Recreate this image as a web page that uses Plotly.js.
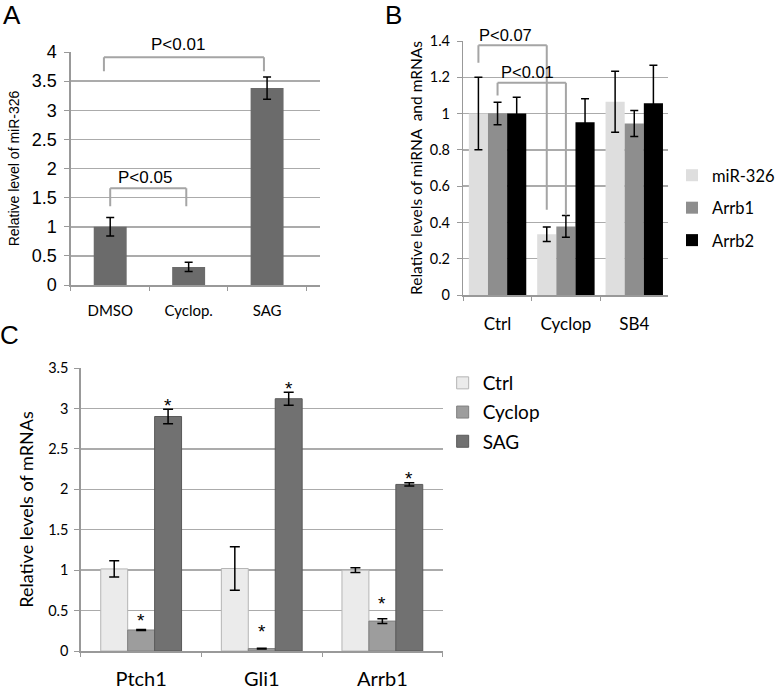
<!DOCTYPE html>
<html>
<head>
<meta charset="utf-8">
<script src="https://cdn.plot.ly/plotly-3.0.1.min.js"></script>
<style>html,body{margin:0;padding:0;background:#fff;}#chart{width:780px;height:690px;}</style>
</head>
<body>
<div id="chart"></div>
<script>
// ---------- Panel A ----------
const aCats = ['DMSO', 'Cyclop.', 'SAG'];
const aVals = [1.0, 0.31, 3.38];
const aErr  = [0.16, 0.08, 0.19];

// ---------- Panel B ----------
const bCats = ['Ctrl', 'Cyclop', 'SB4'];
const bSeriesNames = ['miR-326', 'Arrb1', 'Arrb2'];
const bMir     = [1.0, 0.335, 1.065];
const bMirErr  = [0.2, 0.04, 0.168];
const bArrb1    = [1.0, 0.378, 0.945];
const bArrb1Err = [0.062, 0.06, 0.072];
const bArrb2    = [1.0, 0.952, 1.057];
const bArrb2Err = [0.09, 0.13, 0.21];

// ---------- Panel C ----------
const cCats = ['Ptch1', 'Gli1', 'Arrb1'];
const cSeriesNames = ['Ctrl', 'Cyclop', 'SAG'];
const cCtrl      = [1.015, 1.02, 1.0];
const cCtrlErr   = [0.1, 0.27, 0.03];
const cCyclop    = [0.26, 0.03, 0.37];
const cCyclopErr = [0.005, 0.005, 0.03];
const cSag       = [2.9, 3.12, 2.06];
const cSagErr    = [0.09, 0.08, 0.02];

const W = 780, H = 690;
const px = v => v / W;
const py = v => 1 - v / H;

const CAL = 'Lato, "Open Sans", sans-serif';
const ARI = '"Liberation Sans", Arial, sans-serif';
const GRID = '#ababab';
const errStyle = (arr, w) => ({type: 'data', array: arr, visible: true, color: '#000', thickness: 1.5, width: w});

const traces = [];
// A
traces.push({type: 'bar', x: aCats, y: aVals, xaxis: 'x', yaxis: 'y', width: 0.42,
  marker: {color: '#6b6b6b'}, error_y: errStyle(aErr, 4), showlegend: false});
// B
const bVals = [bMir, bArrb1, bArrb2];
const bErrs = [bMirErr, bArrb1Err, bArrb2Err];
const bColors = ['#dedede', '#8e8e8e', '#000000'];
const bOffsets = [-0.42, -0.14, 0.14];
bSeriesNames.forEach((n, i) => {
  traces.push({type: 'bar', name: n, x: bCats, y: bVals[i], xaxis: 'x2', yaxis: 'y2',
    width: 0.28, offset: bOffsets[i], marker: {color: bColors[i]},
    error_y: errStyle(bErrs[i], 4), legend: 'legend', legendgroup: 'b' + i});
});
// C
const cVals = [cCtrl, cCyclop, cSag];
const cErrs = [cCtrlErr, cCyclopErr, cSagErr];
const cColors = ['#ebebeb', '#9d9d9d', '#717171'];
const cLines = ['#b5b5b5', '#808080', '#5a5a5a'];
cSeriesNames.forEach((n, i) => {
  traces.push({type: 'bar', name: n, x: cCats, y: cVals[i], xaxis: 'x3', yaxis: 'y3',
    marker: {color: cColors[i], line: {color: cLines[i], width: 1}},
    error_y: errStyle(cErrs[i], 5), legend: 'legend2', legendgroup: 'c' + i});
});

function yax(domain, range, dtick, font, standoff) {
  return {domain: domain, range: range, dtick: dtick, showgrid: true, gridcolor: GRID, gridwidth: 1.5,
    showline: true, linecolor: '#999', linewidth: 1.5, zeroline: false, ticks: 'outside', ticklen: 5,
    tickcolor: '#999', tickfont: font, ticklabelstandoff: standoff, fixedrange: true};
}
function xax(domain, range, font, standoff, anchor) {
  return {domain: domain, range: range, type: 'category', anchor: anchor, showgrid: false,
    showline: true, linecolor: '#999', linewidth: 1.5, zeroline: false, ticks: 'outside', ticklen: 4,
    tickcolor: '#999', tickson: 'boundaries', tickfont: font, ticklabelstandoff: standoff, fixedrange: true};
}

const bracketColor = '#a5a5a5';
function bracket(xr, yr, xL, xR, yTop, yLegL, yLegR) {
  const s = {type: 'line', xref: xr, yref: yr, line: {color: bracketColor, width: 2}, layer: 'above'};
  return [
    Object.assign({}, s, {x0: xL, x1: xL, y0: yLegL, y1: yTop}),
    Object.assign({}, s, {x0: xL, x1: xR, y0: yTop, y1: yTop}),
    Object.assign({}, s, {x0: xR, x1: xR, y0: yTop, y1: yLegR})
  ];
}

const shapes = [].concat(
  bracket('x', 'y', -0.08, 1.96, 3.91, 3.67, 3.67),
  bracket('x', 'y', 0.0, 0.97, 1.66, 1.35, 1.35),
  bracket('x2', 'y2', -0.28, 0.72, 1.376, 1.28, 0.47),
  bracket('x2', 'y2', 0.0, 1.0, 1.17, 1.10, 0.44)
);

const letterFont = {family: ARI, size: 26, color: '#000'};
const annotations = [
  {text: 'A', xref: 'paper', yref: 'paper', x: px(12), y: py(15), xanchor: 'center', yanchor: 'middle', showarrow: false, font: letterFont},
  {text: 'B', xref: 'paper', yref: 'paper', x: px(399), y: py(15), xanchor: 'center', yanchor: 'middle', showarrow: false, font: letterFont},
  {text: 'C', xref: 'paper', yref: 'paper', x: px(10), y: py(335), xanchor: 'center', yanchor: 'middle', showarrow: false, font: letterFont},
  {text: 'P<0.01', xref: 'x', yref: 'paper', x: 0.86, y: py(45), xanchor: 'center', yanchor: 'middle', showarrow: false, font: {family: ARI, size: 17, color: '#000'}},
  {text: 'P<0.05', xref: 'x', yref: 'y', x: 0.44, y: 1.84, xanchor: 'center', yanchor: 'middle', showarrow: false, font: {family: ARI, size: 17, color: '#000'}},
  {text: 'P<0.07', xref: 'x2', yref: 'paper', x: 0.11, y: py(35), xanchor: 'center', yanchor: 'middle', showarrow: false, font: {family: ARI, size: 16.5, color: '#000'}},
  {text: 'P<0.01', xref: 'x2', yref: 'y2', x: 0.44, y: 1.23, xanchor: 'center', yanchor: 'middle', showarrow: false, font: {family: ARI, size: 16.5, color: '#000'}}
];
// significance stars in panel C (above Cyclop and SAG bars)
const starCyc = [0.44, 0.30, 0.65];
const starSag = [3.10, 3.31, 2.20];
cCats.forEach((c, i) => {
  annotations.push({text: '*', xref: 'x3', yref: 'y3', x: i, y: starCyc[i], yshift: -5, showarrow: false,
    font: {family: ARI, size: 19, color: '#000'}});
  annotations.push({text: '*', xref: 'x3', yref: 'y3', x: i + 0.2233, y: starSag[i], yshift: -5, showarrow: false,
    font: {family: ARI, size: 19, color: '#000'}});
});

const layout = {
  width: W, height: H, margin: {l: 0, r: 0, t: 0, b: 0},
  paper_bgcolor: '#fff', plot_bgcolor: 'rgba(0,0,0,0)',
  barmode: 'group', bargap: 0.33, bargroupgap: 0,
  showlegend: true,
  font: {family: CAL, color: '#000'},
  xaxis: xax([px(72), px(325)], [-0.5, 2.68], {family: CAL, size: 15, color: '#000'}, 11, 'y'),
  yaxis: Object.assign(yax([py(285), py(52)], [0, 4], 0.5, {family: ARI, size: 18, color: '#000'}, 4),
    {anchor: 'x', title: {text: 'Relative level of miR-326', font: {family: ARI, size: 14, color: '#000'}, standoff: 9}}),
  xaxis2: xax([px(470), px(678)], [-0.5, 2.5], {family: CAL, size: 17, color: '#000'}, 13, 'y2'),
  yaxis2: Object.assign(yax([py(295), py(41)], [0, 1.4], 0.2, {family: CAL, size: 14.5, color: '#000'}, 4),
    {anchor: 'x2', title: {text: 'Relative levels of miRNA  and mRNAs', font: {family: CAL, size: 15.5, color: '#000'}, standoff: 3}}),
  xaxis3: xax([px(82), px(449)], [-0.5, 2.5], {family: CAL, size: 20, color: '#000'}, 9, 'y3'),
  yaxis3: Object.assign(yax([py(651), py(368)], [0, 3.5], 0.5, {family: CAL, size: 14.5, color: '#000'}, 3),
    {anchor: 'x3', title: {text: 'Relative levels of mRNAs', font: {family: CAL, size: 18, color: '#000'}, standoff: 10}}),
  legend: {x: px(682), y: py(158), xanchor: 'left', yanchor: 'top', bgcolor: 'rgba(0,0,0,0)',
    font: {family: CAL, size: 16.5, color: '#000'}, traceorder: 'grouped', tracegroupgap: 8, itemclick: false},
  legend2: {x: px(449), y: py(364), xanchor: 'left', yanchor: 'top', bgcolor: 'rgba(0,0,0,0)',
    font: {family: CAL, size: 19, color: '#000'}, traceorder: 'grouped', tracegroupgap: 1.5, itemclick: false},
  shapes: shapes,
  annotations: annotations
};

Plotly.newPlot('chart', traces, layout, {displayModeBar: false, staticPlot: true});
</script>
</body>
</html>
